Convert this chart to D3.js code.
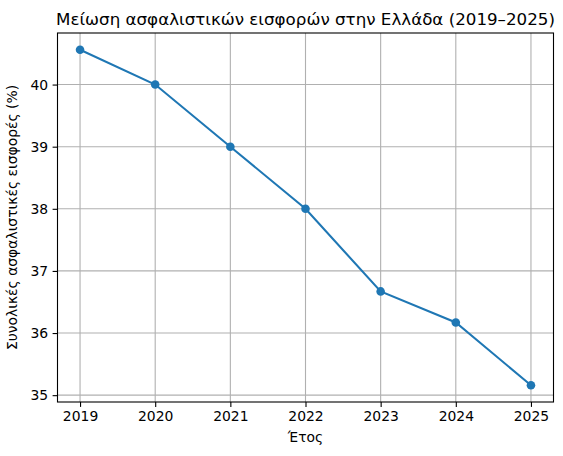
<!DOCTYPE html>
<html>
<head>
<meta charset="utf-8">
<script src="https://cdn.jsdelivr.net/npm/d3@7"></script>
<style>
  body { margin: 0; background: #fff; }
  text { font-family: "DejaVu Sans", sans-serif; fill: #000; }
</style>
</head>
<body>
<svg id="chart"></svg>
<script>
const years = [2019, 2020, 2021, 2022, 2023, 2024, 2025];
const contributions = [40.56, 40.0, 39.0, 38.0, 36.67, 36.17, 35.16];
const yTicks = [35, 36, 37, 38, 39, 40];

const width = 563, height = 456;
const margin = { top: 33, right: 9.5, bottom: 54, left: 57.5 };

const svg = d3.select("#chart")
    .attr("width", width)
    .attr("height", height);

const x = d3.scaleLinear()
    .domain([2018.7, 2025.3])
    .range([margin.left, width - margin.right]);

const y = d3.scaleLinear()
    .domain([34.89, 40.83])
    .range([height - margin.bottom, margin.top]);

// grid
svg.append("g")
    .selectAll("line")
    .data(years)
    .join("line")
    .attr("x1", d => x(d)).attr("x2", d => x(d))
    .attr("y1", margin.top).attr("y2", height - margin.bottom)
    .attr("stroke", "#b0b0b0").attr("stroke-width", 1.1);

svg.append("g")
    .selectAll("line")
    .data(yTicks)
    .join("line")
    .attr("y1", d => y(d)).attr("y2", d => y(d))
    .attr("x1", margin.left).attr("x2", width - margin.right)
    .attr("stroke", "#b0b0b0").attr("stroke-width", 1.1);

// axes
const xAxis = svg.append("g")
    .attr("transform", `translate(0,${height - margin.bottom})`)
    .call(d3.axisBottom(x).tickValues(years).tickFormat(d3.format("d")).tickSizeOuter(0).tickSize(4.9).tickPadding(4.5));

const yAxis = svg.append("g")
    .attr("transform", `translate(${margin.left},0)`)
    .call(d3.axisLeft(y).tickValues(yTicks).tickFormat(d3.format("d")).tickSizeOuter(0).tickSize(4.9).tickPadding(4.5));

[xAxis, yAxis].forEach(g => {
    g.select(".domain").remove();
    g.selectAll("line").attr("stroke", "#000").attr("stroke-width", 1.1);
    g.selectAll("text").attr("font-size", "13.9px").attr("font-family", "DejaVu Sans");
});

// frame
svg.append("rect")
    .attr("x", margin.left).attr("y", margin.top)
    .attr("width", width - margin.left - margin.right)
    .attr("height", height - margin.top - margin.bottom)
    .attr("fill", "none").attr("stroke", "#000").attr("stroke-width", 1.1);

// line + markers
const data = years.map((yr, i) => ({ year: yr, value: contributions[i] }));

svg.append("path")
    .datum(data)
    .attr("fill", "none")
    .attr("stroke", "#1f77b4")
    .attr("stroke-width", 2.08)
    .attr("d", d3.line().x(d => x(d.year)).y(d => y(d.value)));

svg.append("g")
    .selectAll("circle")
    .data(data)
    .join("circle")
    .attr("cx", d => x(d.year))
    .attr("cy", d => y(d.value))
    .attr("r", 4.3)
    .attr("fill", "#1f77b4");

// labels
svg.append("text")
    .attr("x", (margin.left + width - margin.right) / 2)
    .attr("y", 25)
    .attr("text-anchor", "middle")
    .attr("font-size", "16.7px")
    .text("Μείωση ασφαλιστικών εισφορών στην Ελλάδα (2019–2025)");

svg.append("text")
    .attr("x", (margin.left + width - margin.right) / 2)
    .attr("y", 442)
    .attr("text-anchor", "middle")
    .attr("font-size", "13.9px")
    .text("Έτος");

svg.append("text")
    .attr("transform", `translate(17,${(margin.top + height - margin.bottom) / 2}) rotate(-90)`)
    .attr("text-anchor", "middle")
    .attr("font-size", "13.9px")
    .text("Συνολικές ασφαλιστικές εισφορές (%)");
</script>
</body>
</html>
